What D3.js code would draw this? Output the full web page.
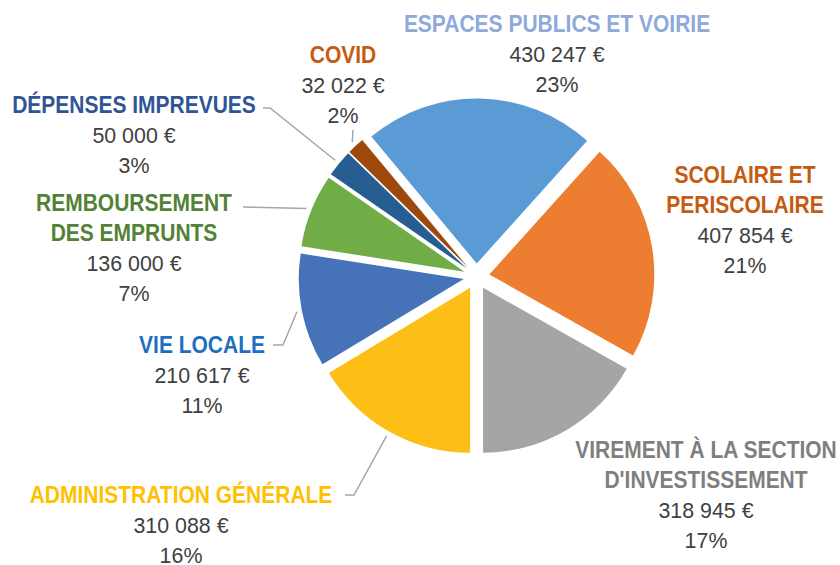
<!DOCTYPE html>
<html>
<head>
<meta charset="utf-8">
<script src="https://cdn.jsdelivr.net/npm/d3@7"></script>
<style>
  body { margin: 0; background: #fff; }
  text { font-family: "Liberation Sans Narrow", "Arial Narrow", "Liberation Sans", Arial, sans-serif; }
</style>
</head>
<body>
<script>
// data
const categories = ["ESPACES PUBLICS ET VOIRIE", "SCOLAIRE ET PERISCOLAIRE", "VIREMENT À LA SECTION D'INVESTISSEMENT",
  "ADMINISTRATION GÉNÉRALE", "VIE LOCALE", "REMBOURSEMENT DES EMPRUNTS", "DÉPENSES IMPREVUES", "COVID"];
const nameLines = [["ESPACES PUBLICS ET VOIRIE"], ["SCOLAIRE ET", "PERISCOLAIRE"], ["VIREMENT À LA SECTION", "D'INVESTISSEMENT"],
  ["ADMINISTRATION GÉNÉRALE"], ["VIE LOCALE"], ["REMBOURSEMENT", "DES EMPRUNTS"], ["DÉPENSES IMPREVUES"], ["COVID"]];
const values = [430247, 407854, 318945, 310088, 210617, 136000, 50000, 32022];
const percents = ["23%", "21%", "17%", "16%", "11%", "7%", "3%", "2%"];

const sliceColors = ["#5B9BD5", "#ED7D31", "#A5A5A5", "#FDBF15", "#4672B8", "#70AD47", "#265E91", "#9E480E"];
const labelColors = ["#8EA9DB", "#C55A11", "#7F7F7F", "#FFC000", "#1F6FBF", "#538135", "#2F5597", "#C55A11"];

// label layout: centre x, first line y, leader line start (null = none)
const labelPos = [
  {x: 557, y: 24, lead: null},
  {x: 745, y: 175, lead: null},
  {x: 706, y: 450, lead: null},
  {x: 181, y: 495, lead: [[345, 495], [354, 495]]},
  {x: 202, y: 345, lead: [[273, 345], [283, 345]]},
  {x: 134, y: 203, lead: [[243, 207]]},
  {x: 134, y: 105, lead: [[263, 108], [270, 108]]},
  {x: 343, y: 55, lead: [[353, 130]]}
];

const W = 840, H = 565;
const cx = 476.5, cy = 276.5, radius = 165, explode = 13, lineH = 30;
// no narrow font installed: squeeze the regular one
const nameSize = 24, nameSqueeze = 0.875, valSize = 23, valSqueeze = 0.93;

const svg = d3.select("body").append("svg")
  .attr("width", W).attr("height", H);

const total = d3.sum(values);
// first three slices end straight down
const firstAngle = Math.PI - 2 * Math.PI * d3.sum(values.slice(0, 3)) / total;

const pie = d3.pie().sort(null)
  .startAngle(firstAngle).endAngle(firstAngle + 2 * Math.PI);
const arcs = pie(values);
const arc = d3.arc().innerRadius(0).outerRadius(radius);

function offset(d, r) {
  const a = (d.startAngle + d.endAngle) / 2;
  return [r * Math.sin(a), -r * Math.cos(a)];
}

const g = svg.append("g").attr("transform", `translate(${cx},${cy})`);

g.selectAll(".slice")
  .data(arcs)
  .enter()
  .append("path")
    .attr("class", "slice")
    .attr("transform", d => { const o = offset(d, explode); return `translate(${o[0]},${o[1]})`; })
    .attr("d", arc)
    .attr("fill", (d, i) => sliceColors[i]);

const fmt = d3.formatLocale({decimal: ",", thousands: " ", grouping: [3], currency: ["", " €"]}).format("$,.0f");

// leader lines
arcs.forEach((d, i) => {
  const p = labelPos[i];
  if (!p.lead) return;
  const e = offset(d, explode), o = offset(d, radius + 5);
  const end = [cx + e[0] + o[0], cy + e[1] + o[1]];
  svg.append("path")
    .attr("d", d3.line()(p.lead.concat([end])))
    .attr("fill", "none")
    .attr("stroke", "#A6A6A6")
    .attr("stroke-width", 1.5);
});

function addLine(x, y, str, size, squeeze, color, bold) {
  svg.append("g")
    .attr("transform", `translate(${x},${y}) scale(${squeeze},1)`)
    .append("text")
      .attr("text-anchor", "middle")
      .attr("dy", "0.35em")
      .style("font-size", size + "px")
      .attr("font-weight", bold ? "bold" : "normal")
      .attr("fill", color)
      .text(str);
}

// labels
arcs.forEach((d, i) => {
  const p = labelPos[i];
  let k = 0;
  nameLines[i].forEach(s => {
    addLine(p.x, p.y + lineH * k++, s, nameSize, nameSqueeze, labelColors[i], true);
  });
  addLine(p.x, p.y + lineH * k++, fmt(values[i]), valSize, valSqueeze, "#404040", false);
  addLine(p.x, p.y + lineH * k++, percents[i], valSize, valSqueeze, "#404040", false);
});
</script>
</body>
</html>
